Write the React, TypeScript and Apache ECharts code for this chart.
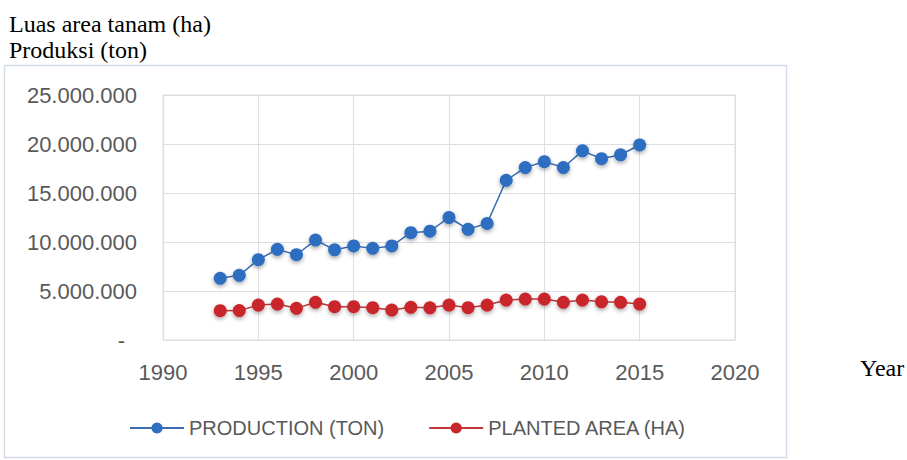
import React, { useEffect, useRef } from "react";
import * as echarts from "echarts";

const years = [1993, 1994, 1995, 1996, 1997, 1998, 1999, 2000, 2001, 2002, 2003, 2004, 2005, 2006, 2007, 2008, 2009, 2010, 2011, 2012, 2013, 2014, 2015];
const production = [6300000, 6600000, 8200000, 9250000, 8700000, 10200000, 9200000, 9600000, 9350000, 9600000, 10950000, 11100000, 12500000, 11300000, 11900000, 16300000, 17600000, 18200000, 17600000, 19300000, 18500000, 18900000, 19900000];
const plantedArea = [2990000, 3000000, 3570000, 3670000, 3230000, 3850000, 3400000, 3400000, 3300000, 3060000, 3330000, 3280000, 3570000, 3300000, 3570000, 4080000, 4180000, 4180000, 3850000, 4080000, 3900000, 3850000, 3670000];
const seriesNames = ["PRODUCTION (TON)", "PLANTED AREA (HA)"];
const titleLines = ["Luas area tanam (ha)", "Produksi (ton)"];
const xAxisName = "Year";

function fmt(v: number): string {
  if (v === 0) return "{z|-}";
  return String(Math.round(v)).replace(/\B(?=(\d{3})+(?!\d))/g, ".");
}

export default function App() {
  const ref = useRef<HTMLDivElement>(null);
  useEffect(() => {
    if (!ref.current) return;
    const chart = echarts.init(ref.current, undefined, { renderer: "svg" });
    const labelColor = "#595959";
    const gridColor = "#dcdfe4";
    const sans = "Liberation Sans";
    const serif = "Liberation Serif";
    chart.setOption({
      animation: false,
      backgroundColor: "#ffffff",
      grid: {
        left: 163,
        right: 172,
        top: 95,
        bottom: 120,
        show: true,
        borderColor: gridColor,
        borderWidth: 1,
      },
      graphic: [
        {
          type: "rect",
          z: -10,
          shape: { x: 4.5, y: 65.5, width: 782, height: 392 },
          style: { fill: "#ffffff", stroke: "#d3dbe6", lineWidth: 1.5 },
        },
        {
          type: "text",
          x: 9,
          y: 24,
          style: { text: titleLines[0], font: `24px '${serif}'`, fill: "#000", verticalAlign: "middle" },
        },
        {
          type: "text",
          x: 9,
          y: 50,
          style: { text: titleLines[1], font: `24px '${serif}'`, fill: "#000", verticalAlign: "middle" },
        },
        {
          type: "text",
          x: 860,
          y: 368,
          style: { text: xAxisName, font: `24px '${serif}'`, fill: "#000", verticalAlign: "middle" },
        },
      ],
      legend: {
        left: 124,
        top: 413,
        itemWidth: 54,
        itemHeight: 14,
        itemGap: 44,
        textStyle: { color: labelColor, fontFamily: sans, fontSize: 20 },
        data: seriesNames,
      },
      xAxis: {
        type: "value",
        min: 1990,
        max: 2020,
        interval: 5,
        axisLine: { show: false },
        axisTick: { show: false },
        splitLine: { show: true, lineStyle: { color: gridColor, width: 1 } },
        axisLabel: { color: labelColor, fontFamily: sans, fontSize: 22, margin: 21, formatter: (v: number) => String(v) },
      },
      yAxis: {
        type: "value",
        min: 0,
        max: 25000000,
        interval: 5000000,
        axisLine: { show: false },
        axisTick: { show: false },
        splitLine: { show: true, lineStyle: { color: gridColor, width: 1 } },
        axisLabel: {
          color: labelColor,
          fontFamily: sans,
          fontSize: 22,
          margin: 26,
          formatter: fmt,
          rich: { z: { color: labelColor, fontFamily: sans, fontSize: 22, padding: [0, 12, 0, 0] } },
        },
      },
      series: [
        {
          name: seriesNames[0],
          type: "line",
          data: years.map((y, i) => [y, production[i]]),
          symbol: "circle",
          symbolSize: 13,
          lineStyle: { color: "#3a6db5", width: 1.5 },
          itemStyle: {
            color: "#2f6ec0",
            shadowColor: "rgba(0,0,0,0.35)",
            shadowBlur: 4,
            shadowOffsetY: 2,
          },
        },
        {
          name: seriesNames[1],
          type: "line",
          data: years.map((y, i) => [y, plantedArea[i]]),
          symbol: "circle",
          symbolSize: 13,
          lineStyle: { color: "#c0393b", width: 1.5 },
          itemStyle: {
            color: "#c8272c",
            shadowColor: "rgba(0,0,0,0.35)",
            shadowBlur: 4,
            shadowOffsetY: 2,
          },
        },
      ],
    });
    return () => chart.dispose();
  }, []);
  return <div ref={ref} style={{ position: "fixed", left: 0, top: 0, width: 907, height: 460 }} />;
}
